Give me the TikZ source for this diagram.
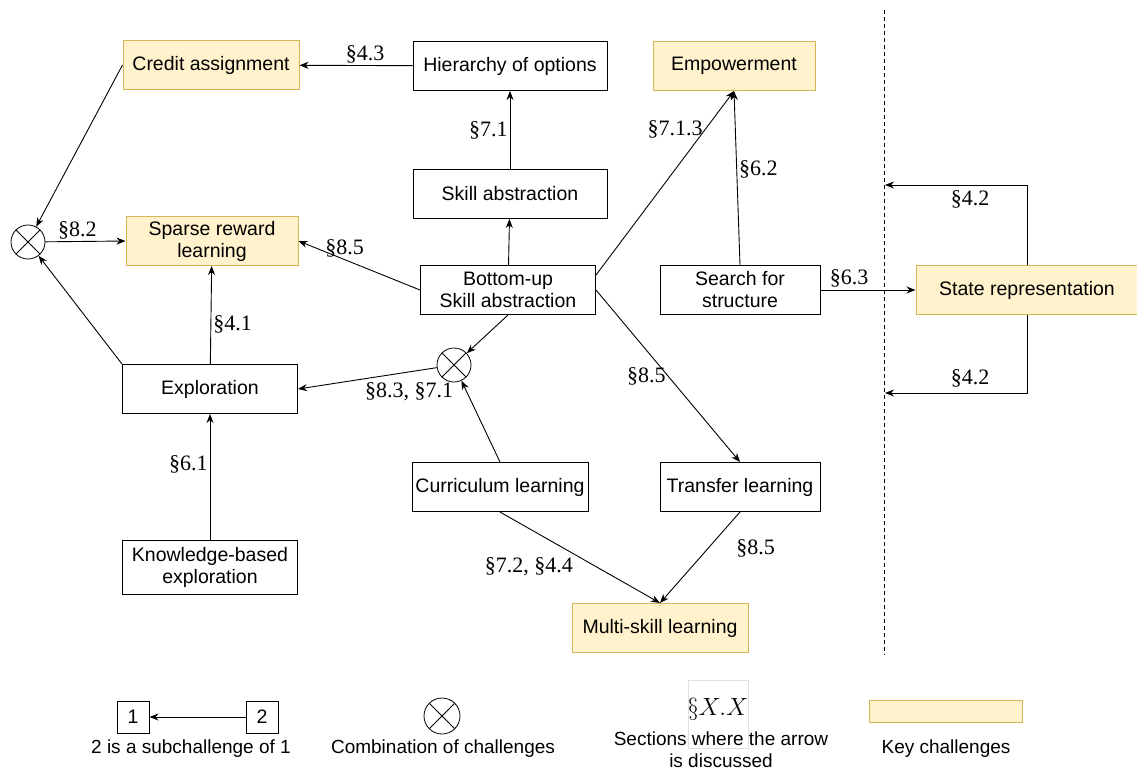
\documentclass[tikz,border=0pt]{standalone}
\usepackage{fontspec}
\setmainfont{Liberation Sans}
\newfontfamily\secfont{Liberation Serif}
\usetikzlibrary{positioning,arrows.meta}
\definecolor{colorkey}    {RGB}{255,242,204}
\definecolor{colorkeyline}{RGB}{214,182,86}
\definecolor{colortext}   {RGB}{0,0,0}

\begin{document}
\begin{tikzpicture}[
    x=1pt, y=-1pt,
    font={\fontsize{19.5}{22}\selectfont},
    >={Stealth[length=9pt,width=7pt]},
    base/.style={text=colortext,draw,line width=1pt,inner sep=2pt,align=center,rectangle,minimum height=49pt},
    key/.style={base,fill=colorkey,draw=colorkeyline},
    comb/.style={circle,draw,line width=0.8pt,minimum size=34pt,inner sep=0pt,
        path picture={\draw[line width=0.8pt] (path picture bounding box.south west) -- (path picture bounding box.north east)
                        (path picture bounding box.north west) -- (path picture bounding box.south east);}},
    sec/.style={font={\secfont\fontsize{22}{24}\selectfont},inner sep=2pt},
    captxt/.style={font={\fontsize{19}{22}\selectfont},align=center,inner sep=0pt},
    link/.style={->,line width=0.9pt},
]
    \useasboundingbox (0,0) rectangle (1137,770);

    % boxes
    \node[key, minimum width=176pt] at (211,65)  (credit)    {Credit assignment};
    \node[base,minimum width=194pt] at (510,66)  (hierarchy) {Hierarchy of options};
    \node[key, minimum width=162pt] at (734,66)  (empower)   {Empowerment};
    \node[base,minimum width=194pt] at (510,194) (skill)     {Skill abstraction};
    \node[key, minimum width=172pt] at (212,241) (sparse)    {Sparse reward\\learning};
    \node[base,minimum width=175pt] at (508,290) (bottomup)  {Bottom-up\\Skill abstraction};
    \node[base,minimum width=160pt] at (740,290) (search)    {Search for\\structure};
    \node[key, minimum width=222pt] at (1027,290) (state)    {State representation};
    \node[base,minimum width=175pt] at (210,389) (explo)     {Exploration};
    \node[base,minimum width=176pt] at (500,487) (curric)    {Curriculum learning};
    \node[base,minimum width=160pt] at (740,487) (transfer)  {Transfer learning};
    \node[base,minimum width=175pt,minimum height=54pt] at (210,567) (knowledge) {Knowledge-based\\exploration};
    \node[key, minimum width=176pt] at (660,628) (multi)     {Multi-skill learning};

    \node[comb] at (28,242)  (combL) {};
    \node[comb] at (454,365) (combM) {};

    % dividing line
    \coordinate (divtop) at (884,10);
    \coordinate (divbot) at (884,655);
    \draw[line width=0.8pt,dash pattern=on 4pt off 3pt] (divtop) -- (divbot);
    \coordinate (divup) at (885,185);
    \coordinate (divdown) at (885,393);

    % connectors
    \draw[link] (hierarchy) -- (credit) node[sec,pos=0.42,above] {§4.3};
    \draw[link] (skill) -- (hierarchy) node[sec,midway,left] {§7.1};
    \draw[link] (bottomup) -- (skill);
    \draw[link] (bottomup.west) -- (sparse.east) node[sec,pos=0.62,above] {§8.5};
    \draw[link] ([yshift=-10pt]bottomup.north east) -- (empower.south) node[sec,pos=0.79,left] {§7.1.3};
    \draw[link] (search.north) -- (empower.south) node[sec,pos=0.55,right] {§6.2};
    \draw[link] (search) -- (state) node[sec,pos=0.3,above] {§6.3};
    \draw[link] (bottomup.east) -- (transfer.north) node[sec,pos=0.5,left] {§8.5};
    \draw[link] (bottomup.south) -- (combM);
    \draw[link] (curric.north) -- (combM);
    \draw[link] (combM) -- (explo.east) node[sec,pos=0.2,below=8pt] {§8.3, §7.1};
    \draw[link] (explo) -- (sparse) node[sec,pos=0.4,right] {§4.1};
    \draw[link] (knowledge) -- (explo) node[sec,pos=0.6,left] {§6.1};
    \draw[link] (explo.north west) -- (combL);
    \draw[link] (credit.west) -- (combL);
    \draw[link] (combL) -- (sparse.west) node[sec,pos=0.4,above] {§8.2};
    \draw[link] (curric.south) -- (multi.north) node[sec,pos=0.47,below left] {§7.2, §4.4};
    \draw[link] (transfer.south) -- (multi.north) node[sec,pos=0.4,right=26pt] {§8.5};
    \draw[link] (state.north) |- (divup) node[sec,pos=0.7,below=3pt] {§4.2};
    \draw[link] (state.south) |- (divdown) node[sec,pos=0.7,above=3pt] {§4.2};

    % legend
    \node[base,minimum width=32pt,minimum height=32pt,inner sep=0pt] at (133,717) (leg1) {1};
    \node[base,minimum width=32pt,minimum height=32pt,inner sep=0pt] at (262,717) (leg2) {2};
    \draw[link] (leg2) -- (leg1);
    \node[captxt] at (191,749) (legsub) {2 is a subchallenge of 1};
    \node[comb,minimum size=36pt] at (442,716) (legcomb) {};
    \node[captxt] at (443,749) (legcombtxt) {Combination of challenges};
    \node[draw=black!12,fill=white,minimum width=60pt,minimum height=68pt] at (718,714) (legsecbox) {};
    \node[sec,font={\secfont\fontsize{26}{28}\selectfont}] at (718,709) (legsec) {$\S X.X$};
    \node[captxt] at (721,750) (legsectxt) {Sections where the arrow\\is discussed};
    \node[key,minimum width=153pt,minimum height=22pt,inner sep=0pt] at (946,711) (legkey) {};
    \node[captxt] at (946,749) (legkeytxt) {Key challenges};
\end{tikzpicture}
\end{document}
